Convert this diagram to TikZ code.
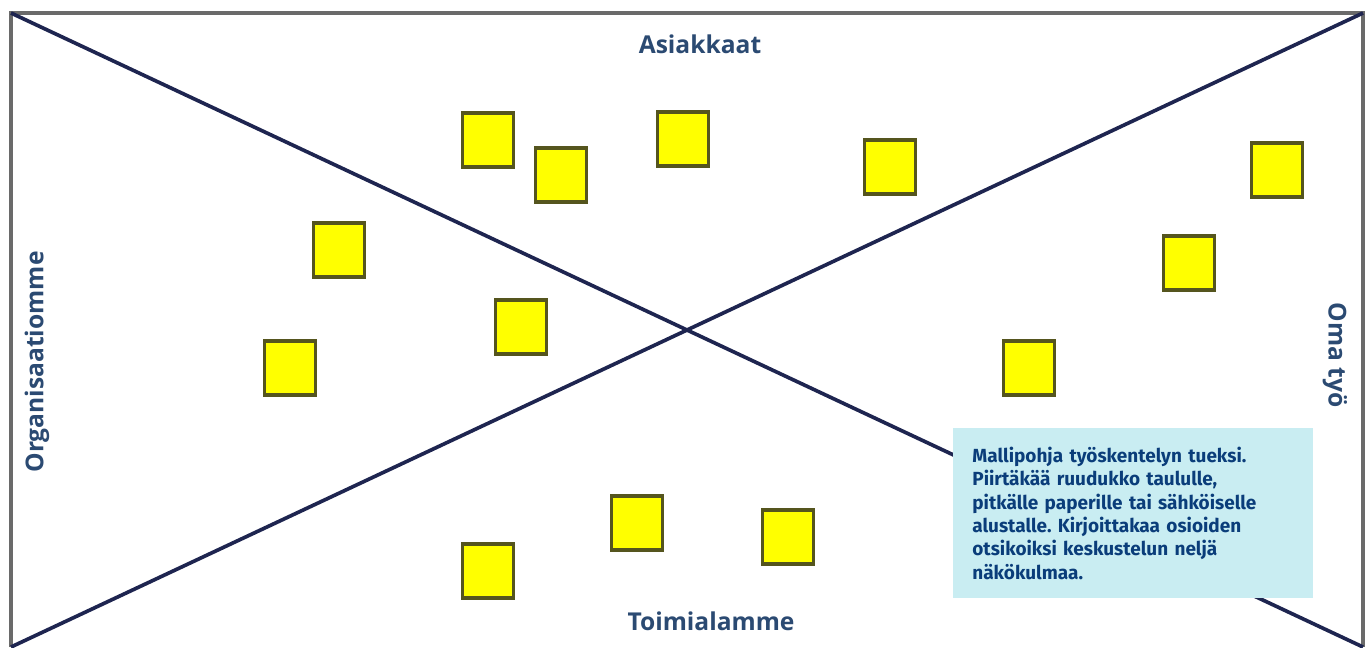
\documentclass[tikz,border=0pt]{standalone}
\usepackage{fontspec}
\setmainfont{Open Sans}
\newfontfamily\notefont{Fira Sans}
\usetikzlibrary{positioning}

\definecolor{framegray}{HTML}{6A6A6A}
\definecolor{crossnavy}{HTML}{1E2550}
\definecolor{labelblue}{HTML}{2B4A72}
\definecolor{noteblue}{HTML}{0A3D7A}
\definecolor{notecyan}{HTML}{C9EDF2}
\definecolor{stickyyellow}{HTML}{FFFF00}
\definecolor{stickyolive}{HTML}{55551E}

\begin{document}
\begin{tikzpicture}
[x=0.02cm,y=-0.02cm,line join=miter]

  \tikzstyle{sticky}=[draw=stickyolive,fill=stickyyellow,line width=1.8pt,
                      minimum width=1.02cm,minimum height=1.08cm,inner sep=0pt]
  \tikzstyle{side}=[text=labelblue,font=\fontsize{14}{16}\selectfont\bfseries]
  \tikzstyle{cross}=[draw=crossnavy,line width=2.1pt]

  \useasboundingbox (0,0) rectangle (1371,647);

  % corners of the board
  \coordinate (nw) at (11,13);
  \coordinate (ne) at (1363,13);
  \coordinate (sw) at (11,647);
  \coordinate (se) at (1363,647);

  \draw[framegray,line width=2.2pt] (sw) -- (nw) -- (ne) -- (se);
  \path (nw) edge[cross] (se)
        (sw) edge[cross] (ne);

  % side labels
  \node[side]               (top)    at (700,44)  {Asiakkaat};
  \node[side]               (bottom) at (711,621) {Toimialamme};
  \node[side,rotate=90]     (left)   at (37,362)  {Organisaatiomme};
  \node[side,rotate=-90]    (right)  at (1335,355) {Oma työ};

  % sticky notes
  \node[sticky] (s1)  at (488,140) {};
  \node[sticky] (s2)  at (561,175) {};
  \node[sticky] (s3)  at (683,139) {};
  \node[sticky] (s4)  at (890,167) {};
  \node[sticky] (s5)  at (1277,170) {};
  \node[sticky] (s6)  at (339,250) {};
  \node[sticky] (s7)  at (1189,263) {};
  \node[sticky] (s8)  at (521,327) {};
  \node[sticky] (s9)  at (290,368) {};
  \node[sticky] (s10) at (1029,368) {};
  \node[sticky] (s11) at (637,523) {};
  \node[sticky] (s12) at (788,537) {};
  \node[sticky] (s13) at (488,571) {};

  % instruction box
  \node[fill=notecyan,text=noteblue,anchor=north west,align=left,
        text width=6.44cm,minimum width=7.2cm,minimum height=3.4cm,
        inner xsep=0.38cm,font=\notefont\fontsize{10.8}{13.3}\selectfont\bfseries\frenchspacing]
        (note) at (953,428)
        {Mallipohja työskentelyn tueksi.\\
         Piirtäkää ruudukko taululle,\\
         pitkälle paperille tai sähköiselle\\
         alustalle. Kirjoittakaa osioiden\\
         otsikoiksi keskustelun neljä\\
         näkökulmaa.};
\end{tikzpicture}
\end{document}
